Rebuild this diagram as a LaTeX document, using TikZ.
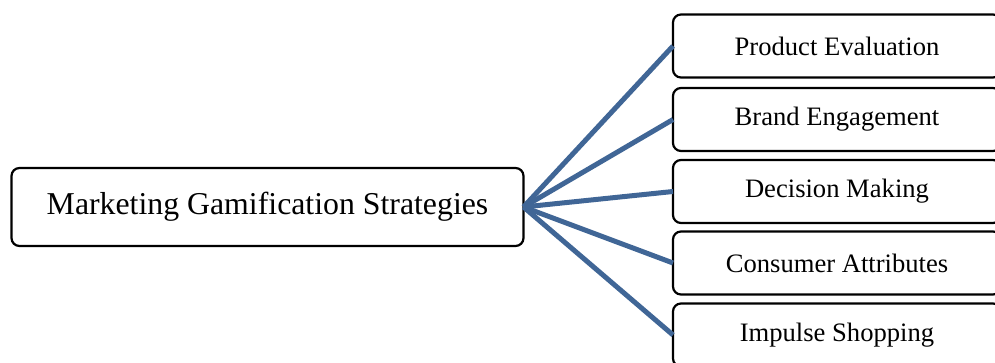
\documentclass[tikz,border=0pt]{standalone}
\usepackage{fontspec}
\setmainfont{Liberation Serif}
\definecolor{linkblue}{RGB}{64,102,150}
\begin{document}
\begin{tikzpicture}[x=0.5pt,y=-0.5pt,
  box/.style={draw=black,line width=1.1pt,rounded corners=4pt,fill=white,outer sep=0pt,inner sep=0pt},
  mainbox/.style={box,minimum width=256pt,minimum height=39pt,font=\fontsize{15.9pt}{18pt}\selectfont},
  leaf/.style={box,minimum width=164pt,minimum height=31.5pt,font=\fontsize{13.3pt}{15pt}\selectfont},
  link/.style={draw=linkblue,line width=2.5pt}]
\useasboundingbox (0,0) rectangle (995,363);
\begin{scope}
\clip (0,0) rectangle (995,363);
\foreach \y/\n in {46/p1,119.5/p2,191.5/p3,263/p4,335/p5}
  \coordinate (c\n) at (837,\y);
\node[mainbox] (main) at (267.5,207) {Marketing Gamification Strategies};
\node[leaf] (p1) at (cp1) {Product Evaluation};
\node[leaf] (p2) at (cp2) {Brand Engagement};
\node[leaf] (p3) at (cp3) {Decision Making};
\node[leaf] (p4) at (cp4) {Consumer Attributes};
\node[leaf] (p5) at (cp5) {Impulse Shopping};
\foreach \n in {p1,p2,p3,p4,p5}
  \draw[link] (main.east) -- (\n.west);
\end{scope}
\end{tikzpicture}
\end{document}
